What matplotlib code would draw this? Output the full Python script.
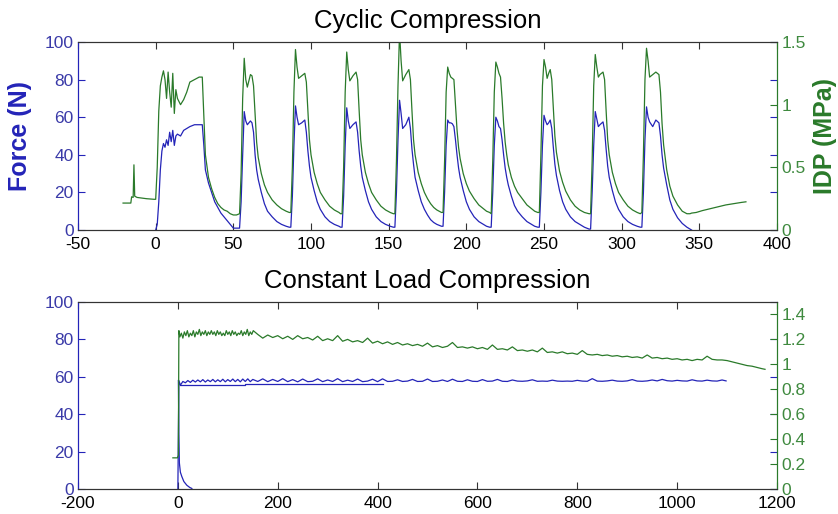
import matplotlib
matplotlib.use("Agg")
import matplotlib.pyplot as plt
from matplotlib.ticker import FormatStrFormatter

plt.rcParams["font.family"] = ["Liberation Sans", "DejaVu Sans"]
plt.rcParams["axes.unicode_minus"] = False

BLUE = "#2424b8"
BLUE_TXT = "#3a3aa8"
GREEN = "#2a7a2a"
GREEN_TXT = "#3f8a3f"
DARK = "#333333"

# ---- Cyclic compression: time (s), force (N), IDP (MPa) ----
cyc_t = [
    0, 1, 2, 3, 4, 5, 6, 7, 8, 9, 10, 11, 12, 13, 14, 16, 18, 20, 22, 25, 28, 30, 31, 32, 34, 36, 38, 40, 42, 44, 46, 48, 50, 52,
    54, 55, 56, 57, 58, 59, 61, 62, 63, 64, 65, 66, 68, 70, 72, 75, 78, 81, 84, 86,
    87, 88, 89, 90, 91, 92, 94, 96, 97, 98, 99, 100, 102, 104, 106, 109, 112, 115, 118, 119,
    120, 121, 122, 123, 124, 125, 127, 129, 130, 131, 132, 133, 135, 137, 139, 142, 145, 148, 151, 153,
    154, 155, 156, 157, 158, 159, 161, 163, 164, 165, 166, 167, 169, 171, 173, 175, 177, 179, 181, 184,
    185, 186, 187, 188, 189, 190, 191, 192, 193, 194, 195, 196, 198, 200, 202, 205, 208, 211, 213, 215,
    216, 217, 218, 219, 220, 221, 222, 223, 224, 225, 226, 227, 229, 231, 233, 236, 239, 242, 244, 246,
    247, 248, 249, 250, 251, 252, 253, 254, 255, 256, 257, 258, 260, 262, 264, 267, 270, 273, 276, 279,
    280, 281, 282, 283, 284, 285, 286, 288, 289, 290, 291, 292, 294, 296, 298, 301, 304, 307, 310, 312,
    313, 314, 315, 316, 317, 318, 320, 322, 324, 325, 326, 327, 329, 331, 333, 336, 339, 342, 344, 345,
]
cyc_force = [
    0, 3, 15, 32, 42, 46, 44, 48, 45, 52, 47, 53, 45, 50, 51, 50, 53, 54, 55, 56, 56, 56, 45, 32, 25, 20, 15, 12, 9, 7, 5, 3, 1, 1,
    1, 15, 40, 63, 58, 56, 58, 57, 52, 40, 32, 27, 20, 14, 10, 7, 4.5, 3, 2, 1.5,
    1.5, 18, 45, 66, 60, 56, 57, 58.5, 52, 42, 34, 28, 21, 15, 11, 7, 4.5, 3, 2, 1.5,
    1.5, 18, 45, 65, 58, 54, 56, 57.5, 52, 42, 34, 28, 21, 15, 11, 7, 4.5, 3, 2, 1.5,
    1.5, 20, 48, 69, 62, 54, 56, 60, 54, 43, 35, 28, 21, 15, 11, 8, 5.5, 4, 3, 2,
    2, 20, 45, 58.5, 57, 57, 56.5, 55, 48, 40, 33, 28, 21, 15, 11, 7, 4.5, 3, 2, 1.5,
    1.5, 20, 45, 60, 58, 55, 54, 48, 40, 33, 28, 24, 18, 13, 10, 7, 4.5, 3, 2, 1.5,
    1.5, 20, 45, 61, 58, 56, 57, 58.5, 54, 44, 35, 29, 21, 15, 11, 7, 4.5, 3, 1.5, 0.5,
    0.5, 20, 45, 63, 59, 55, 56, 57.5, 53, 43, 34, 28, 21, 15, 11, 7, 4.5, 3, 2, 1.5,
    1.5, 20, 48, 65.5, 60, 57.5, 55, 58.5, 57, 50, 40, 33, 24, 16, 11, 6.5, 3.5, 1.5, 0.5, 0,
]
cyc_idp = [
    0.245, 0.5, 0.95, 1.15, 1.22, 1.27, 1.2, 1.05, 1.26, 1.1, 0.98, 1.25, 0.93, 1.12, 1.05, 1.0, 1.04, 1.1, 1.18, 1.2, 1.22, 1.22,
    0.9, 0.6, 0.42, 0.33, 0.26, 0.21, 0.18, 0.16, 0.15, 0.13, 0.12, 0.12,
    0.13, 0.45, 1.05, 1.37, 1.2, 1.14, 1.24, 1.23, 1.15, 0.92, 0.7, 0.58, 0.45, 0.36, 0.3, 0.24, 0.2, 0.17, 0.15, 0.14,
    0.14, 0.5, 1.1, 1.44, 1.3, 1.21, 1.23, 1.25, 1.18, 0.95, 0.72, 0.6, 0.46, 0.37, 0.3, 0.24, 0.19, 0.16, 0.14, 0.13,
    0.13, 0.5, 1.1, 1.42, 1.28, 1.19, 1.23, 1.26, 1.2, 0.95, 0.72, 0.6, 0.46, 0.37, 0.3, 0.24, 0.19, 0.16, 0.14, 0.13,
    0.13, 0.55, 1.15, 1.58, 1.35, 1.19, 1.24, 1.28, 1.2, 0.95, 0.72, 0.6, 0.46, 0.37, 0.3, 0.25, 0.21, 0.18, 0.16, 0.14,
    0.14, 0.55, 1.1, 1.3, 1.25, 1.22, 1.21, 1.2, 1.0, 0.8, 0.66, 0.57, 0.45, 0.37, 0.31, 0.25, 0.2, 0.17, 0.15, 0.14,
    0.13, 0.55, 1.1, 1.34, 1.3, 1.25, 1.22, 1.05, 0.85, 0.7, 0.6, 0.52, 0.42, 0.35, 0.3, 0.25, 0.2, 0.17, 0.15, 0.14,
    0.14, 0.6, 1.15, 1.36, 1.3, 1.21, 1.25, 1.28, 1.2, 0.98, 0.75, 0.62, 0.47, 0.38, 0.31, 0.24, 0.19, 0.16, 0.14, 0.13,
    0.13, 0.55, 1.15, 1.4, 1.3, 1.22, 1.24, 1.26, 1.2, 0.95, 0.72, 0.6, 0.46, 0.37, 0.3, 0.24, 0.19, 0.16, 0.14, 0.13,
    0.14, 0.6, 1.2, 1.45, 1.35, 1.22, 1.24, 1.26, 1.24, 1.1, 0.85, 0.68, 0.48, 0.35, 0.27, 0.2, 0.15, 0.13, 0.13, 0.135,
]
# IDP recorded before loading and after the last cycle
idp_pre_t = [-21, -16, -15.5, -14.5, -14, -13.5, -12, -6, -1]
idp_pre = [0.215, 0.215, 0.265, 0.26, 0.52, 0.27, 0.26, 0.25, 0.245]
idp_post_t = [348, 352, 357, 362, 367, 372, 377, 380]
idp_post = [0.14, 0.155, 0.17, 0.185, 0.2, 0.21, 0.22, 0.225]

# ---- Constant load compression ----
cl_force_t = [
    0, 1, 2, 5, 10, 15, 20, 25, 30, 35, 40, 45, 50, 55, 60, 65, 70, 75, 80, 85,
    90, 95, 100, 105, 110, 115, 120, 125, 130, 135, 140, 145, 150,
    160, 170, 180, 190, 200, 210, 220, 230, 240, 250, 260, 270, 280, 290, 300, 310, 320, 330, 340,
    350, 360, 370, 380, 390, 400, 410, 420, 430, 440, 450, 460, 470, 480, 490, 500, 510, 520, 530,
    540, 550, 560, 570, 580, 590, 600, 610, 620, 630, 640, 650, 660, 670, 680, 690, 700, 710, 720,
    730, 740, 750, 760, 770, 780, 790, 800, 810, 820, 830, 840, 850, 860, 870, 880, 890, 900, 910,
    920, 930, 940, 950, 960, 970, 980, 990, 1000, 1010, 1020, 1030, 1040, 1050, 1060, 1070, 1080, 1090, 1098,
]
cl_force = [
    0, 30, 58, 55.5, 57.5, 56.8, 58, 57, 58.2, 57.2, 58.3, 57.3, 58.5, 57.2, 58.3, 57.4, 58.6, 57.3, 58.4, 57.4,
    58.7, 57.3, 58.5, 57.5, 58.8, 57.4, 58.6, 57.3, 58.8, 57.5, 58.9, 57.4, 58.6,
    57.5, 58.9, 57.4, 58.6, 57.5, 59.0, 57.4, 58.5, 57.3, 58.8, 57.4, 57.6, 58.9, 57.4, 58.3, 57.5, 59.0, 57.4, 58.2,
    57.5, 58.8, 57.4, 57.7, 58.7, 57.4, 58.9, 57.5, 57.6, 58.4, 57.5, 57.7, 58.6, 57.5, 57.6, 58.8, 57.5, 57.6, 58.3,
    57.5, 58.7, 57.6, 57.5, 58.4, 57.6, 57.5, 58.5, 57.6, 57.7, 58.6, 57.6, 57.5, 58.3, 57.7, 57.6, 57.8, 58.4, 57.6,
    57.7, 57.6, 58.2, 57.7, 57.6, 57.7, 57.6, 58.1, 57.7, 57.6, 59.0, 57.7, 57.6, 57.8, 58.2, 57.7, 57.6, 57.8, 58.5,
    57.7, 57.6, 57.8, 58.3, 57.8, 58.6, 57.9, 57.7, 58.1, 57.8, 57.7, 58.4, 57.8, 57.7, 58.2, 57.8, 57.7, 58.3, 57.8,
]
cl_tail_t = [1, 2, 3, 5, 8, 12, 18, 24, 28]
cl_tail = [58, 30, 14, 9, 6.6, 4, 2, 0.8, 0.3]
cl_base_t = [5, 135, 135, 410]
cl_base = [55.6, 55.6, 56.2, 56.2]

cl_idp_t = [
    -10, -1, 1, 2, 4, 7, 10, 13, 16, 19, 22, 25, 28, 31, 34, 37, 40, 43, 46, 49,
    52, 55, 58, 61, 64, 67, 70, 73, 76, 79, 82, 85, 88, 91, 94, 97, 100, 103, 106, 109,
    112, 115, 118, 121, 124, 127, 130, 133, 136, 139, 142, 145, 148, 151,
    160, 170, 180, 190, 200, 210, 220, 230, 240, 250, 260, 270, 280, 290, 300, 310, 320, 330, 340,
    350, 360, 370, 380, 390, 400, 410, 420, 430, 440, 450, 460, 470, 480, 490, 500, 510, 520, 530,
    540, 550, 560, 570, 580, 590, 600, 610, 620, 630, 640, 650, 660, 670, 680, 690, 700, 710, 720,
    730, 740, 750, 760, 770, 780, 790, 800, 810, 820, 830, 840, 850, 860, 870, 880, 890, 900, 910,
    920, 930, 940, 950, 960, 970, 980, 990, 1000, 1010, 1020, 1030, 1040, 1050, 1060, 1070, 1080, 1090,
    1100, 1110, 1120, 1130, 1140, 1150, 1160, 1170, 1176,
]
cl_idp = [
    0.25, 0.25, 0.27, 1.27, 1.22, 1.25, 1.21, 1.26, 1.23, 1.27, 1.22, 1.25, 1.23, 1.27, 1.22, 1.26, 1.24, 1.28, 1.23, 1.26,
    1.24, 1.27, 1.23, 1.26, 1.24, 1.27, 1.24, 1.26, 1.23, 1.27, 1.24, 1.26, 1.23, 1.25, 1.23, 1.27, 1.24, 1.26, 1.23, 1.27,
    1.24, 1.26, 1.23, 1.25, 1.24, 1.27, 1.23, 1.26, 1.24, 1.28, 1.23, 1.26, 1.24, 1.27,
    1.24, 1.21, 1.235, 1.215, 1.23, 1.205, 1.225, 1.2, 1.23, 1.205, 1.215, 1.195, 1.225, 1.19, 1.205, 1.19, 1.23, 1.185, 1.2,
    1.18, 1.19, 1.175, 1.21, 1.17, 1.185, 1.165, 1.18, 1.16, 1.175, 1.155, 1.165, 1.15, 1.16, 1.145, 1.17, 1.14, 1.15, 1.135,
    1.145, 1.175, 1.135, 1.14, 1.13, 1.14, 1.125, 1.135, 1.12, 1.155, 1.12, 1.125, 1.115, 1.14, 1.11, 1.115, 1.105, 1.115, 1.1,
    1.13, 1.095, 1.1, 1.09, 1.1, 1.085, 1.09, 1.08, 1.11, 1.08, 1.075, 1.08, 1.07, 1.075, 1.065, 1.07, 1.06, 1.065, 1.055,
    1.06, 1.05, 1.075, 1.05, 1.055, 1.045, 1.05, 1.04, 1.045, 1.035, 1.04, 1.03, 1.04, 1.035, 1.065, 1.04, 1.035, 1.035,
    1.03, 1.02, 1.01, 1.0, 0.99, 0.985, 0.975, 0.965, 0.96,
]


def style_axes(ax, ax2, xlim, xticks, yticks2, ylim2):
    ax.set_xlim(*xlim)
    ax.set_xticks(xticks)
    ax.set_ylim(0, 100)
    ax.set_yticks([0, 20, 40, 60, 80, 100])
    ax2.set_ylim(*ylim2)
    ax2.set_yticks(yticks2)
    ax2.yaxis.set_major_formatter(FormatStrFormatter("%g"))
    ax.tick_params(axis="x", direction="in", top=True, length=5, colors=DARK,
                   labelcolor="black", labelsize=12.5, pad=5)
    ax.tick_params(axis="y", direction="in", right=True, labelright=False, length=5,
                   colors=BLUE, labelcolor=BLUE_TXT, labelsize=12.5, pad=3)
    ax2.tick_params(axis="y", direction="in", length=5, colors=GREEN,
                    labelcolor=GREEN_TXT, labelsize=12.5, pad=3)
    for a in (ax, ax2):
        a.spines["top"].set_color(DARK)
        a.spines["bottom"].set_color(DARK)
        a.spines["left"].set_color(BLUE)
        a.spines["right"].set_color(GREEN)


fig = plt.figure(figsize=(8.38, 5.14), dpi=100)

# top panel
ax = fig.add_axes([0.0931, 0.5525, 0.8341, 0.3658])
ax2 = ax.twinx()
ax.plot(cyc_t, cyc_force, color=BLUE, lw=0.9)
ax2.plot(idp_pre_t + cyc_t + idp_post_t, idp_pre + cyc_idp + idp_post, color=GREEN, lw=0.9)
style_axes(ax, ax2, (-50, 400), [-50, 0, 50, 100, 150, 200, 250, 300, 350, 400],
           [0, 0.5, 1, 1.5], (0, 1.5))
ax.set_title("Cyclic Compression", fontsize=18.5, pad=10)
ax.set_ylabel("Force (N)", color=BLUE, fontsize=18, fontweight="bold")
ax.yaxis.set_label_coords(-0.066, 0.5)
ax2.set_ylabel("IDP (MPa)", color=GREEN, fontsize=18, fontweight="bold")
ax2.yaxis.set_label_coords(1.052, 0.5)

# bottom panel
bx = fig.add_axes([0.0931, 0.0486, 0.8341, 0.3639])
bx2 = bx.twinx()
bx.plot(cl_base_t, cl_base, color=BLUE, lw=0.9)
bx.plot(cl_force_t, cl_force, color=BLUE, lw=0.9)
bx.plot(cl_tail_t, cl_tail, color=BLUE, lw=0.9)
bx2.plot(cl_idp_t, cl_idp, color=GREEN, lw=0.9)
style_axes(bx, bx2, (-200, 1200), [-200, 0, 200, 400, 600, 800, 1000, 1200],
           [0, 0.2, 0.4, 0.6, 0.8, 1.0, 1.2, 1.4], (0, 1.5))
bx.set_title("Constant Load Compression", fontsize=18.5, pad=10)

fig.savefig("out.png", dpi=100)
